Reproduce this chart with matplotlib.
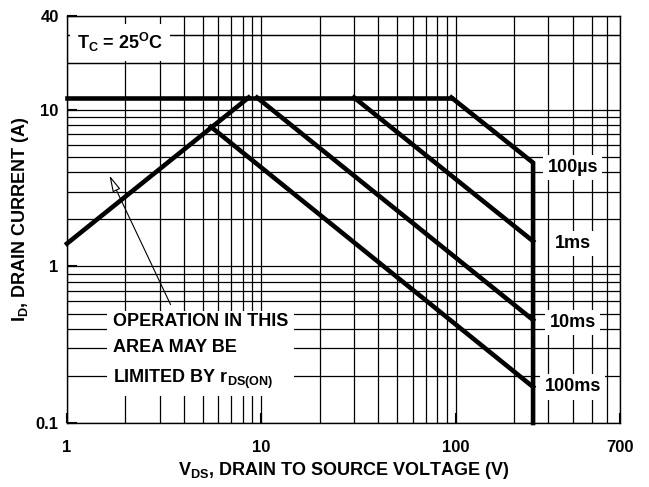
import numpy as np
import matplotlib.pyplot as plt
from matplotlib.ticker import FixedLocator, NullFormatter

plt.rcParams["font.family"] = ["Liberation Sans", "DejaVu Sans"]
plt.rcParams["font.weight"] = "bold"
plt.rcParams["mathtext.fontset"] = "custom"
plt.rcParams["mathtext.rm"] = "Liberation Sans:bold"
plt.rcParams["mathtext.bf"] = "Liberation Sans:bold"
plt.rcParams["mathtext.default"] = "rm"

# safe operating area boundaries (V, A)
current_limit_v = [1, 95]
current_limit_i = [12, 12]
us100_v = [95, 250, 250]
us100_i = [12, 4.6, 0.1]
ms1_v = [30, 250]
ms1_i = [12, 1.45]
ms10_v = [9.5, 250]
ms10_i = [12, 0.455]
ms100_v = [5.5, 250]
ms100_i = [7.8, 0.17]
rds_v = [1, 8.6]
rds_i = [1.4, 12]

pulse_labels = ["100\u00b5s", "1ms", "10ms", "100ms"]
pulse_label_i = [4.3, 1.4, 0.44, 0.17]
pulse_label_v = 400

x_major = [1, 10, 100, 700]
y_major = [0.1, 1, 10, 40]
x_grid = [m * 10**d for d in range(0, 3) for m in range(1, 10)] + [700]
y_grid = [m * 10.0**d for d in range(-1, 2) for m in range(1, 10)] + [20, 30, 40]

FS = 13

fig = plt.figure(figsize=(6.49, 4.87), dpi=100)
ax = fig.add_axes([0.1032, 0.1314, 0.8521, 0.8364])
ax.set_xscale("log")
ax.set_yscale("log")
ax.set_xlim(1, 700)
ax.set_ylim(0.1, 40)

ax.xaxis.set_minor_locator(FixedLocator(x_grid))
ax.yaxis.set_minor_locator(FixedLocator(y_grid))
ax.xaxis.set_minor_formatter(NullFormatter())
ax.yaxis.set_minor_formatter(NullFormatter())
ax.set_xticks(x_major)
ax.set_xticklabels([str(v) for v in x_major])
ax.set_yticks(y_major)
ax.set_yticklabels(["0.1", "1", "10", "40"])
ax.grid(True, which="both", color="black", linewidth=0.9)
ax.tick_params(which="minor", length=0)
ax.tick_params(which="major", direction="in", length=7, width=1.5, labelsize=12)
ax.tick_params(axis="x", which="major", pad=12)
ax.tick_params(axis="y", which="major", pad=6)
for sp in ax.spines.values():
    sp.set_linewidth(1.0)

lw = 3.3
kw = dict(color="black", linewidth=lw, solid_joinstyle="miter", zorder=5)
ax.plot(current_limit_v, current_limit_i, clip_on=False, **kw)
ax.plot(us100_v, us100_i, clip_on=False, **kw)
ax.plot(ms1_v, ms1_i, **kw)
ax.plot(ms10_v, ms10_i, **kw)
ax.plot(ms100_v, ms100_i, **kw)
ax.plot(rds_v, rds_i, clip_on=False, **kw)

box = dict(facecolor="white", edgecolor="none", pad=3)
for lab, yi in zip(pulse_labels, pulse_label_i):
    ax.text(pulse_label_v, yi, lab, ha="center", va="center", fontsize=FS,
            fontweight="bold", bbox=box, zorder=4)

ax.text(0.018, 0.935, r"T$_\mathrm{C}$ = 25$^\mathrm{O}$C", transform=ax.transAxes,
        ha="left", va="center", fontsize=FS, fontweight="bold",
        bbox=dict(facecolor="white", edgecolor="none", pad=5), zorder=4)

ax.text(1.72, 0.285, "OPERATION IN THIS\nAREA MAY BE\nLIMITED BY r$_\\mathrm{DS(ON)}$",
        ha="left", va="center", fontsize=FS, fontweight="bold", linespacing=1.72,
        bbox=dict(facecolor="white", edgecolor="none", pad=4), zorder=4)

ax.annotate("", xy=(1.63, 3.96), xytext=(3.46, 0.55),
            arrowprops=dict(arrowstyle="-|>,head_length=1.0,head_width=0.25",
                            fc="white", ec="black", lw=0.8), zorder=6)

ax.set_xlabel(r"V$_\mathrm{DS}$, DRAIN TO SOURCE VOLTAGE (V)", fontsize=FS,
              fontweight="bold", labelpad=4)
ax.set_ylabel(r"I$_\mathrm{D}$, DRAIN CURRENT (A)", fontsize=FS,
              fontweight="bold", labelpad=3)

fig.savefig("out.png", dpi=100)
